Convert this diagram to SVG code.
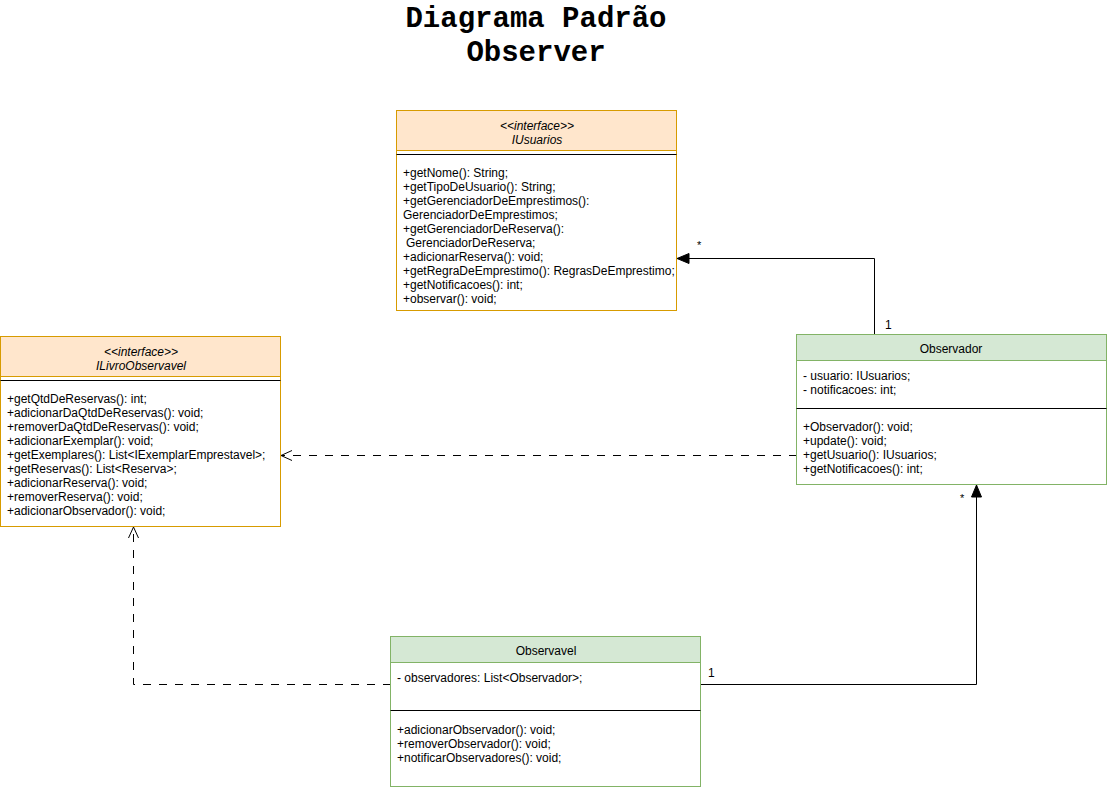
<svg xmlns="http://www.w3.org/2000/svg" width="1107" height="789" viewBox="0 0 1107 789">
<style>
.t{font-family:"Liberation Sans",Arial,sans-serif;font-size:12px;fill:#000}
.i{font-style:italic}
.c{text-anchor:middle}
.m{font-family:"Liberation Sans",Arial,sans-serif;font-size:11px;fill:#000}
.title{font-family:"Liberation Mono","Courier New",monospace;font-size:29px;font-weight:bold;text-anchor:middle;fill:#000}
.ob{fill:#fff;stroke:#d79b00;stroke-width:1}
.oh{fill:#ffe6cc;stroke:#d79b00;stroke-width:1}
.gb{fill:#fff;stroke:#82b366;stroke-width:1}
.gh{fill:#d5e8d4;stroke:#82b366;stroke-width:1}
.sep{stroke:#000;stroke-width:1}
.ln{fill:none;stroke:#000;stroke-width:1}
.dash{stroke-dasharray:8 8}
</style>
<defs>
<marker id="tri" markerWidth="14" markerHeight="12" refX="13" refY="6" orient="auto" markerUnits="userSpaceOnUse">
<path d="M1,1 L13,6 L1,11 Z" fill="#000" stroke="#000"/>
</marker>
<marker id="open" markerWidth="14" markerHeight="14" refX="12" refY="7" orient="auto" markerUnits="userSpaceOnUse">
<path d="M1,2 L12,7 L1,12" fill="none" stroke="#000" stroke-width="1"/>
</marker>
</defs>
<rect width="1107" height="789" fill="#fff"/>
<g id="title">
<text class="title" x="536" y="27">Diagrama Padrão</text>
<text class="title" x="536" y="61">Observer</text>
</g>
<g id="connectors">
<polyline class="ln" points="874.5,335 874.5,258.5 677,258.5" marker-end="url(#tri)"/>
<text class="m" x="697" y="249">*</text>
<text class="t" x="885" y="329">1</text>
<line class="ln dash" x1="797" y1="455.5" x2="281" y2="455.5" marker-end="url(#open)"/>
<polyline class="ln dash" points="391,684.5 133.5,684.5 133.5,527" marker-end="url(#open)"/>
<polyline class="ln" points="701,684.5 976.5,684.5 976.5,485" marker-end="url(#tri)"/>
<text class="t" x="708" y="677">1</text>
<text class="m" x="960" y="502">*</text>
</g>
<g id="IUsuarios">
<rect class="ob" x="396.5" y="110.5" width="280" height="200"/>
<rect class="oh" x="396.5" y="110.5" width="280" height="40"/>
<text class="t i c" x="537" y="130">&lt;&lt;interface&gt;&gt;</text>
<text class="t i c" x="537" y="144">IUsuarios</text>
<line class="sep" x1="396.5" y1="154.5" x2="676.5" y2="154.5"/>
<text class="t" x="403" y="177">+getNome(): String;</text>
<text class="t" x="403" y="191">+getTipoDeUsuario(): String;</text>
<text class="t" x="403" y="205">+getGerenciadorDeEmprestimos():</text>
<text class="t" x="403" y="219">GerenciadorDeEmprestimos;</text>
<text class="t" x="403" y="233">+getGerenciadorDeReserva():</text>
<text class="t" x="406" y="247">GerenciadorDeReserva;</text>
<text class="t" x="403" y="261">+adicionarReserva(): void;</text>
<text class="t" x="403" y="275">+getRegraDeEmprestimo(): RegrasDeEmprestimo;</text>
<text class="t" x="403" y="289">+getNotificacoes(): int;</text>
<text class="t" x="403" y="303">+observar(): void;</text>
</g>
<g id="ILivroObservavel">
<rect class="ob" x="0.5" y="336.5" width="280" height="190"/>
<rect class="oh" x="0.5" y="336.5" width="280" height="40"/>
<text class="t i c" x="141" y="356">&lt;&lt;interface&gt;&gt;</text>
<text class="t i c" x="141" y="370">ILivroObservavel</text>
<line class="sep" x1="0.5" y1="380.5" x2="280.5" y2="380.5"/>
<text class="t" x="7" y="403">+getQtdDeReservas(): int;</text>
<text class="t" x="7" y="417">+adicionarDaQtdDeReservas(): void;</text>
<text class="t" x="7" y="431">+removerDaQtdDeReservas(): void;</text>
<text class="t" x="7" y="445">+adicionarExemplar(): void;</text>
<text class="t" x="7" y="459">+getExemplares(): List&lt;IExemplarEmprestavel&gt;;</text>
<text class="t" x="7" y="473">+getReservas(): List&lt;Reserva&gt;;</text>
<text class="t" x="7" y="487">+adicionarReserva(): void;</text>
<text class="t" x="7" y="501">+removerReserva(): void;</text>
<text class="t" x="7" y="515">+adicionarObservador(): void;</text>
</g>
<g id="Observador">
<rect class="gb" x="796.5" y="334.5" width="310" height="150"/>
<rect class="gh" x="796.5" y="334.5" width="310" height="26"/>
<text class="t c" x="951" y="353">Observador</text>
<text class="t" x="803" y="380">- usuario: IUsuarios;</text>
<text class="t" x="803" y="394">- notificacoes: int;</text>
<line class="sep" x1="796.5" y1="408.5" x2="1106.5" y2="408.5"/>
<text class="t" x="803" y="431">+Observador(): void;</text>
<text class="t" x="803" y="445">+update(): void;</text>
<text class="t" x="803" y="459">+getUsuario(): IUsuarios;</text>
<text class="t" x="803" y="473">+getNotificacoes(): int;</text>
</g>
<g id="Observavel">
<rect class="gb" x="390.5" y="636.5" width="310" height="150"/>
<rect class="gh" x="390.5" y="636.5" width="310" height="26"/>
<text class="t c" x="546" y="655">Observavel</text>
<text class="t" x="397" y="682">- observadores: List&lt;Observador&gt;;</text>
<line class="sep" x1="390.5" y1="710.5" x2="700.5" y2="710.5"/>
<text class="t" x="397" y="734">+adicionarObservador(): void;</text>
<text class="t" x="397" y="748">+removerObservador(): void;</text>
<text class="t" x="397" y="762">+notificarObservadores(): void;</text>
</g>
</svg>
